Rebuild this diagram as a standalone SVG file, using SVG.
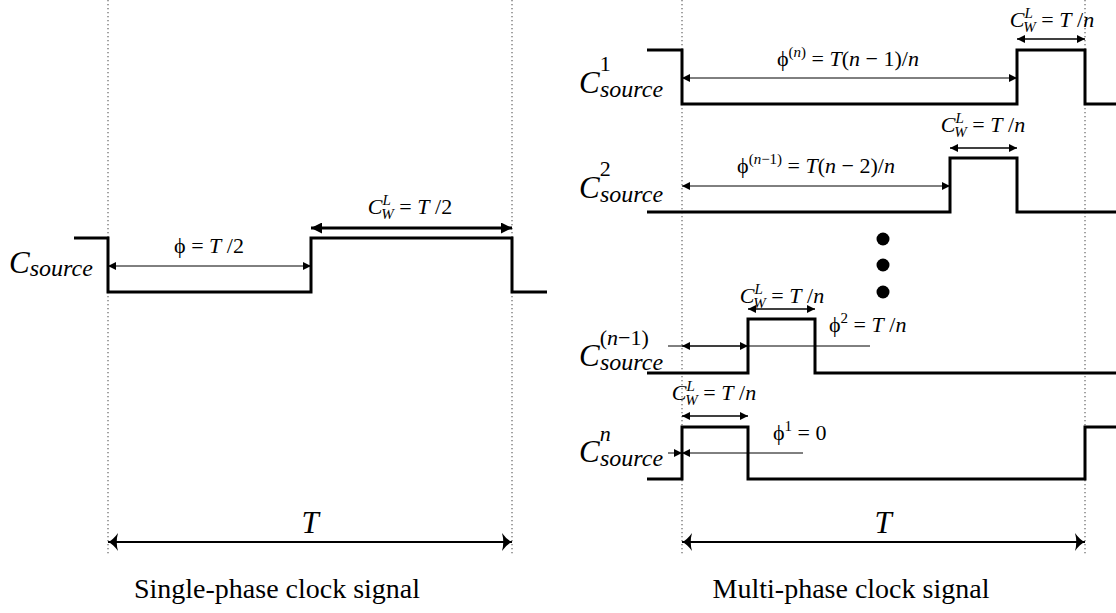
<svg xmlns="http://www.w3.org/2000/svg" width="1116" height="613" viewBox="0 0 1116 613">
<style>
text{font-family:"Liberation Serif","DejaVu Serif",serif;fill:#000}
.m{font-size:22px}
.i{font-style:italic}
.u{font-style:normal}
.s{font-size:15px}
.big{font-size:31px;font-style:italic}
.sub{font-size:24px;font-style:italic}
.cap{font-size:28px}
.dot{stroke:#444;stroke-width:1;stroke-dasharray:1.3 2.7;fill:none}
.wave{stroke:#000;stroke-width:3;fill:none;stroke-linejoin:miter}
.thin{stroke:#000;stroke-width:1;fill:none}
.mid{stroke:#000;stroke-width:1.5;fill:none}
.tline{stroke:#000;stroke-width:2;fill:none}
.thick{stroke:#000;stroke-width:3;fill:none}
</style>
<defs>
<marker id="a" viewBox="0 0 10 10" refX="10" refY="5" markerWidth="10" markerHeight="8" markerUnits="userSpaceOnUse" orient="auto-start-reverse"><path d="M0,0 L10,5 L0,10 z"/></marker>
<marker id="b" viewBox="0 0 10 10" refX="10" refY="5" markerWidth="13" markerHeight="11" markerUnits="userSpaceOnUse" orient="auto-start-reverse"><path d="M0,0 L10,5 L0,10 z"/></marker>
<marker id="t" viewBox="0 0 10 18" refX="10" refY="9" markerWidth="10" markerHeight="20" markerUnits="userSpaceOnUse" orient="auto-start-reverse"><path d="M0,0 Q5,7 10,9 Q5,11 0,18 Q2.5,9 0,0 z"/></marker>
</defs>

<g id="guides">
<line class="dot" x1="108" y1="0" x2="108" y2="556"/>
<line class="dot" x1="512" y1="0" x2="512" y2="556"/>
<line class="dot" x1="682" y1="0" x2="682" y2="556"/>
<line class="dot" x1="1085" y1="0" x2="1085" y2="556"/>
</g>

<g id="single-phase">
<path class="wave" d="M74,238 H108 V292 H311 V238 H512 V292 H547"/>
<text x="9" y="273" class="big">C<tspan class="sub" dy="3">source</tspan></text>
</g>

<g id="c1">
<path class="wave" d="M647,50 H682 V104 H1017 V50 H1085 V104 H1116"/>
<text x="579" y="93" class="big">C<tspan class="m u" dy="-22">1</tspan><tspan class="sub" x="600" dy="26">source</tspan></text>
</g>

<g id="c2">
<path class="wave" d="M647,212 H950 V158 H1017 V212 H1116"/>
<text x="579" y="198" class="big">C<tspan class="m u" dy="-22">2</tspan><tspan class="sub" x="600" dy="26">source</tspan></text>
</g>

<g id="ellipsis">
<circle cx="883" cy="239" r="6.5"/>
<circle cx="883" cy="265" r="6.5"/>
<circle cx="883" cy="292" r="6.5"/>
</g>

<g id="cn1">
<path class="wave" d="M647,373 H748 V319 H815 V373 H1116"/>
<text x="579" y="366" class="big">C<tspan class="m u" dy="-21">(<tspan class="i">n</tspan>−1)</tspan><tspan class="sub" x="600" dy="25">source</tspan></text>
</g>

<g id="cn">
<path class="wave" d="M647,479 H682 V427 H748 V479 H1085 V427 H1116"/>
<text x="579" y="462" class="big">C<tspan class="m" dy="-21">n</tspan><tspan class="sub" x="600" dy="25">source</tspan></text>
</g>

<g id="connectors">
<line class="thin" x1="108" y1="266" x2="311" y2="266" marker-start="url(#a)" marker-end="url(#a)"/>
<line class="thick" x1="311" y1="228" x2="512" y2="228" marker-start="url(#b)" marker-end="url(#b)"/>
<line class="tline" x1="108" y1="542" x2="512" y2="542" marker-start="url(#t)" marker-end="url(#t)"/>
<line class="tline" x1="682" y1="542" x2="1085" y2="542" marker-start="url(#t)" marker-end="url(#t)"/>

<line class="thin" x1="682" y1="78" x2="1017" y2="78" marker-start="url(#a)" marker-end="url(#a)"/>
<line class="mid" x1="1017" y1="39" x2="1085" y2="39" marker-start="url(#a)" marker-end="url(#a)"/>
<line class="thin" x1="682" y1="186" x2="950" y2="186" marker-start="url(#a)" marker-end="url(#a)"/>
<line class="mid" x1="950" y1="148" x2="1017" y2="148" marker-start="url(#a)" marker-end="url(#a)"/>
<line class="mid" x1="748" y1="309" x2="815" y2="309" marker-start="url(#a)" marker-end="url(#a)"/>
<line class="thin" x1="668" y1="346" x2="870" y2="346"/>
<line class="thin" x1="682" y1="346" x2="748" y2="346" marker-start="url(#a)" marker-end="url(#a)"/>
<line class="mid" x1="682" y1="416" x2="748" y2="416" marker-start="url(#a)" marker-end="url(#a)"/>
<line class="thin" x1="668" y1="453" x2="682" y2="453" marker-end="url(#a)"/>
<line class="thin" x1="803" y1="453" x2="682" y2="453" marker-end="url(#a)"/>
</g>

<g id="labels">
<text class="m" x="209" y="253" text-anchor="middle">ϕ = <tspan class="i">T</tspan> /2</text>
<text class="m" x="410" y="214" text-anchor="middle"><tspan class="i">C</tspan><tspan class="i s" dy="-9">L</tspan><tspan class="i s" dx="-9" dy="14">W</tspan><tspan dy="-5"> = </tspan><tspan class="i">T</tspan> /2</text>
<text class="big" x="310" y="533" text-anchor="middle">T</text>
<text class="big" x="883" y="533" text-anchor="middle">T</text>

<text class="m" x="848" y="66" text-anchor="middle">ϕ<tspan class="s" dy="-9">(<tspan class="i">n</tspan>)</tspan><tspan dy="9"> = </tspan><tspan class="i">T</tspan>(<tspan class="i">n</tspan> − 1)/<tspan class="i">n</tspan></text>
<text class="m" x="1052" y="27" text-anchor="middle"><tspan class="i">C</tspan><tspan class="i s" dy="-9">L</tspan><tspan class="i s" dx="-9" dy="14">W</tspan><tspan dy="-5"> = </tspan><tspan class="i">T</tspan> /<tspan class="i">n</tspan></text>

<text class="m" x="816" y="173" text-anchor="middle">ϕ<tspan class="s" dy="-9">(<tspan class="i">n</tspan>−1)</tspan><tspan dy="9"> = </tspan><tspan class="i">T</tspan>(<tspan class="i">n</tspan> − 2)/<tspan class="i">n</tspan></text>
<text class="m" x="983" y="132" text-anchor="middle"><tspan class="i">C</tspan><tspan class="i s" dy="-9">L</tspan><tspan class="i s" dx="-9" dy="14">W</tspan><tspan dy="-5"> = </tspan><tspan class="i">T</tspan> /<tspan class="i">n</tspan></text>

<text class="m" x="782" y="303" text-anchor="middle"><tspan class="i">C</tspan><tspan class="i s" dy="-9">L</tspan><tspan class="i s" dx="-9" dy="14">W</tspan><tspan dy="-5"> = </tspan><tspan class="i">T</tspan> /<tspan class="i">n</tspan></text>
<text class="m" x="829" y="332">ϕ<tspan class="s" dy="-9">2</tspan><tspan dy="9"> = </tspan><tspan class="i">T</tspan> /<tspan class="i">n</tspan></text>

<text class="m" x="714" y="400" text-anchor="middle"><tspan class="i">C</tspan><tspan class="i s" dy="-9">L</tspan><tspan class="i s" dx="-9" dy="14">W</tspan><tspan dy="-5"> = </tspan><tspan class="i">T</tspan> /<tspan class="i">n</tspan></text>
<text class="m" x="773" y="440">ϕ<tspan class="s" dy="-9">1</tspan><tspan dy="9"> = 0</tspan></text>

<text class="cap" x="277" y="598" text-anchor="middle">Single-phase clock signal</text>
<text class="cap" x="851" y="598" text-anchor="middle">Multi-phase clock signal</text>
</g>
</svg>
